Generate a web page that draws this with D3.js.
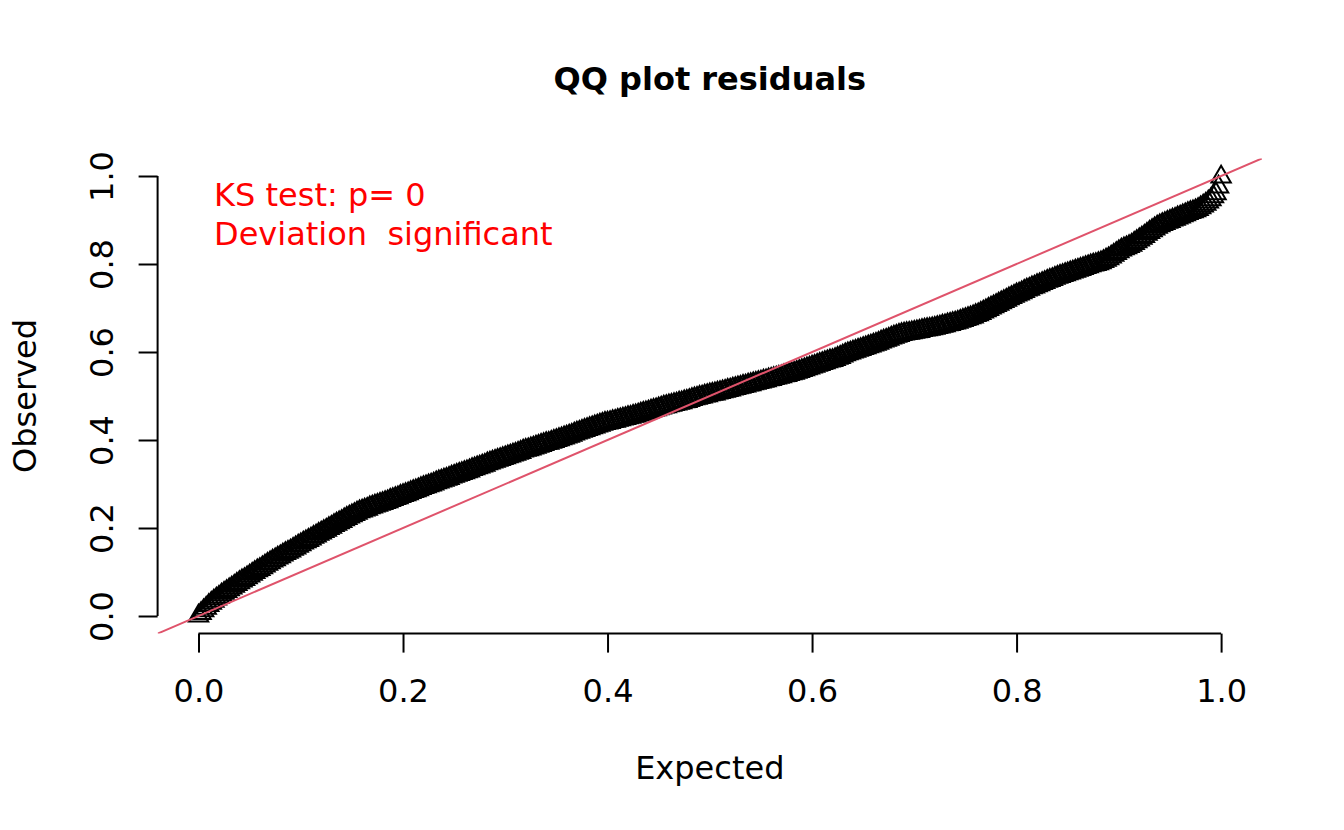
<!DOCTYPE html>
<html>
<head>
<meta charset="utf-8">
<script src="https://cdn.jsdelivr.net/npm/d3@7/dist/d3.min.js"></script>
<style>
    html, body { margin: 0; padding: 0; background: #ffffff; }
    svg { display: block; font-family: "DejaVu Sans", sans-serif; }
</style>
</head>
<body>
<svg id="chart" width="1344" height="830"></svg>
<script>
// expected (uniform) quantiles, read along the x axis
const expected = [
    0.0000, 0.0025, 0.0050, 0.0075, 0.0100, 0.0125, 0.0150, 0.0175, 0.0200, 0.0225,
    0.0250, 0.0275, 0.0300, 0.0325, 0.0350, 0.0375, 0.0400, 0.0425, 0.0450, 0.0475,
    0.0500, 0.0525, 0.0550, 0.0575, 0.0600, 0.0625, 0.0650, 0.0675, 0.0700, 0.0725,
    0.0750, 0.0775, 0.0800, 0.0825, 0.0850, 0.0875, 0.0900, 0.0925, 0.0950, 0.0975,
    0.1000, 0.1025, 0.1050, 0.1075, 0.1100, 0.1125, 0.1150, 0.1175, 0.1200, 0.1225,
    0.1250, 0.1275, 0.1300, 0.1325, 0.1350, 0.1375, 0.1400, 0.1425, 0.1450, 0.1475,
    0.1500, 0.1525, 0.1550, 0.1575, 0.1600, 0.1625, 0.1650, 0.1675, 0.1700, 0.1725,
    0.1750, 0.1775, 0.1800, 0.1825, 0.1850, 0.1875, 0.1900, 0.1925, 0.1950, 0.1975,
    0.2000, 0.2025, 0.2050, 0.2075, 0.2100, 0.2125, 0.2150, 0.2175, 0.2200, 0.2225,
    0.2250, 0.2275, 0.2300, 0.2325, 0.2350, 0.2375, 0.2400, 0.2425, 0.2450, 0.2475,
    0.2500, 0.2525, 0.2550, 0.2575, 0.2600, 0.2625, 0.2650, 0.2675, 0.2700, 0.2725,
    0.2750, 0.2775, 0.2800, 0.2825, 0.2850, 0.2875, 0.2900, 0.2925, 0.2950, 0.2975,
    0.3000, 0.3025, 0.3050, 0.3075, 0.3100, 0.3125, 0.3150, 0.3175, 0.3200, 0.3225,
    0.3250, 0.3275, 0.3300, 0.3325, 0.3350, 0.3375, 0.3400, 0.3425, 0.3450, 0.3475,
    0.3500, 0.3525, 0.3550, 0.3575, 0.3600, 0.3625, 0.3650, 0.3675, 0.3700, 0.3725,
    0.3750, 0.3775, 0.3800, 0.3825, 0.3850, 0.3875, 0.3900, 0.3925, 0.3950, 0.3975,
    0.4000, 0.4025, 0.4050, 0.4075, 0.4100, 0.4125, 0.4150, 0.4175, 0.4200, 0.4225,
    0.4250, 0.4275, 0.4300, 0.4325, 0.4350, 0.4375, 0.4400, 0.4425, 0.4450, 0.4475,
    0.4500, 0.4525, 0.4550, 0.4575, 0.4600, 0.4625, 0.4650, 0.4675, 0.4700, 0.4725,
    0.4750, 0.4775, 0.4800, 0.4825, 0.4850, 0.4875, 0.4900, 0.4925, 0.4950, 0.4975,
    0.5000, 0.5025, 0.5050, 0.5075, 0.5100, 0.5125, 0.5150, 0.5175, 0.5200, 0.5225,
    0.5250, 0.5275, 0.5300, 0.5325, 0.5350, 0.5375, 0.5400, 0.5425, 0.5450, 0.5475,
    0.5500, 0.5525, 0.5550, 0.5575, 0.5600, 0.5625, 0.5650, 0.5675, 0.5700, 0.5725,
    0.5750, 0.5775, 0.5800, 0.5825, 0.5850, 0.5875, 0.5900, 0.5925, 0.5950, 0.5975,
    0.6000, 0.6025, 0.6050, 0.6075, 0.6100, 0.6125, 0.6150, 0.6175, 0.6200, 0.6225,
    0.6250, 0.6275, 0.6300, 0.6325, 0.6350, 0.6375, 0.6400, 0.6425, 0.6450, 0.6475,
    0.6500, 0.6525, 0.6550, 0.6575, 0.6600, 0.6625, 0.6650, 0.6675, 0.6700, 0.6725,
    0.6750, 0.6775, 0.6800, 0.6825, 0.6850, 0.6875, 0.6900, 0.6925, 0.6950, 0.6975,
    0.7000, 0.7025, 0.7050, 0.7075, 0.7100, 0.7125, 0.7150, 0.7175, 0.7200, 0.7225,
    0.7250, 0.7275, 0.7300, 0.7325, 0.7350, 0.7375, 0.7400, 0.7425, 0.7450, 0.7475,
    0.7500, 0.7525, 0.7550, 0.7575, 0.7600, 0.7625, 0.7650, 0.7675, 0.7700, 0.7725,
    0.7750, 0.7775, 0.7800, 0.7825, 0.7850, 0.7875, 0.7900, 0.7925, 0.7950, 0.7975,
    0.8000, 0.8025, 0.8050, 0.8075, 0.8100, 0.8125, 0.8150, 0.8175, 0.8200, 0.8225,
    0.8250, 0.8275, 0.8300, 0.8325, 0.8350, 0.8375, 0.8400, 0.8425, 0.8450, 0.8475,
    0.8500, 0.8525, 0.8550, 0.8575, 0.8600, 0.8625, 0.8650, 0.8675, 0.8700, 0.8725,
    0.8750, 0.8775, 0.8800, 0.8825, 0.8850, 0.8875, 0.8900, 0.8925, 0.8950, 0.8975,
    0.9000, 0.9025, 0.9050, 0.9075, 0.9100, 0.9125, 0.9150, 0.9175, 0.9200, 0.9225,
    0.9250, 0.9275, 0.9300, 0.9325, 0.9350, 0.9375, 0.9400, 0.9425, 0.9450, 0.9475,
    0.9500, 0.9525, 0.9550, 0.9575, 0.9600, 0.9625, 0.9650, 0.9675, 0.9700, 0.9725,
    0.9750, 0.9775, 0.9800, 0.9825, 0.9850, 0.9875, 0.9900, 0.9925, 0.9950, 0.9975,
    1.0000
];

// observed scaled residual quantiles
const observed = [
    0.000, 0.006, 0.012, 0.018, 0.024, 0.029, 0.034, 0.039, 0.043, 0.048,
    0.052, 0.056, 0.060, 0.064, 0.068, 0.072, 0.076, 0.080, 0.083, 0.087,
    0.091, 0.095, 0.099, 0.103, 0.106, 0.110, 0.114, 0.118, 0.121, 0.125,
    0.128, 0.132, 0.135, 0.139, 0.142, 0.145, 0.148, 0.152, 0.155, 0.159,
    0.162, 0.166, 0.169, 0.172, 0.175, 0.179, 0.182, 0.186, 0.189, 0.192,
    0.195, 0.199, 0.202, 0.206, 0.209, 0.212, 0.215, 0.219, 0.222, 0.225,
    0.228, 0.231, 0.234, 0.237, 0.239, 0.241, 0.243, 0.246, 0.248, 0.250,
    0.252, 0.254, 0.256, 0.258, 0.260, 0.263, 0.265, 0.267, 0.269, 0.272,
    0.274, 0.276, 0.278, 0.281, 0.283, 0.285, 0.287, 0.290, 0.292, 0.294,
    0.296, 0.298, 0.300, 0.303, 0.305, 0.307, 0.309, 0.311, 0.313, 0.316,
    0.318, 0.320, 0.322, 0.324, 0.326, 0.328, 0.330, 0.333, 0.335, 0.337,
    0.339, 0.341, 0.343, 0.346, 0.348, 0.350, 0.352, 0.354, 0.356, 0.358,
    0.360, 0.362, 0.364, 0.366, 0.368, 0.370, 0.372, 0.375, 0.377, 0.378,
    0.380, 0.382, 0.384, 0.386, 0.388, 0.390, 0.392, 0.393, 0.395, 0.397,
    0.399, 0.401, 0.403, 0.405, 0.407, 0.409, 0.411, 0.414, 0.416, 0.418,
    0.420, 0.422, 0.424, 0.426, 0.428, 0.430, 0.432, 0.434, 0.436, 0.438,
    0.439, 0.440, 0.442, 0.443, 0.445, 0.446, 0.448, 0.449, 0.451, 0.452,
    0.454, 0.455, 0.457, 0.459, 0.461, 0.462, 0.464, 0.466, 0.468, 0.469,
    0.471, 0.473, 0.475, 0.476, 0.478, 0.479, 0.481, 0.482, 0.484, 0.485,
    0.487, 0.488, 0.490, 0.492, 0.494, 0.495, 0.497, 0.498, 0.500, 0.501,
    0.503, 0.504, 0.505, 0.507, 0.508, 0.510, 0.511, 0.513, 0.514, 0.516,
    0.517, 0.519, 0.520, 0.522, 0.523, 0.525, 0.526, 0.528, 0.529, 0.531,
    0.532, 0.534, 0.535, 0.537, 0.538, 0.540, 0.541, 0.543, 0.544, 0.546,
    0.547, 0.549, 0.551, 0.552, 0.554, 0.556, 0.558, 0.560, 0.562, 0.564,
    0.566, 0.568, 0.570, 0.572, 0.574, 0.576, 0.578, 0.580, 0.581, 0.583,
    0.586, 0.588, 0.591, 0.594, 0.596, 0.598, 0.600, 0.602, 0.604, 0.606,
    0.608, 0.610, 0.612, 0.614, 0.616, 0.618, 0.620, 0.623, 0.625, 0.627,
    0.629, 0.632, 0.634, 0.636, 0.638, 0.640, 0.641, 0.642, 0.643, 0.644,
    0.645, 0.646, 0.647, 0.649, 0.650, 0.651, 0.652, 0.653, 0.654, 0.656,
    0.657, 0.659, 0.660, 0.662, 0.663, 0.665, 0.666, 0.668, 0.670, 0.672,
    0.674, 0.676, 0.678, 0.680, 0.683, 0.685, 0.688, 0.691, 0.694, 0.697,
    0.700, 0.703, 0.706, 0.709, 0.712, 0.715, 0.718, 0.721, 0.724, 0.727,
    0.730, 0.732, 0.735, 0.738, 0.741, 0.743, 0.746, 0.748, 0.751, 0.753,
    0.756, 0.758, 0.761, 0.763, 0.765, 0.768, 0.770, 0.772, 0.774, 0.776,
    0.778, 0.780, 0.782, 0.784, 0.786, 0.788, 0.790, 0.792, 0.794, 0.796,
    0.798, 0.799, 0.801, 0.803, 0.806, 0.809, 0.812, 0.816, 0.820, 0.824,
    0.828, 0.832, 0.835, 0.837, 0.840, 0.843, 0.847, 0.851, 0.855, 0.859,
    0.863, 0.868, 0.872, 0.876, 0.880, 0.884, 0.887, 0.890, 0.892, 0.895,
    0.897, 0.900, 0.902, 0.905, 0.907, 0.910, 0.912, 0.915, 0.917, 0.919,
    0.921, 0.924, 0.928, 0.932, 0.936, 0.941, 0.946, 0.953, 0.960, 0.975,
    0.998
];

const xTicks = [0.0, 0.2, 0.4, 0.6, 0.8, 1.0];
const yTicks = [0.0, 0.2, 0.4, 0.6, 0.8, 1.0];
const ksLines = ['KS test: p= 0', 'Deviation  significant'];

const chartTitle = 'QQ plot residuals';
const xLabel = 'Expected';
const yLabel = 'Observed';

// plot region (R style, 4% extension on both axes)
const plot = {left: 157.6, right: 1262, top: 158.4, bottom: 633.6};
const fontSize = 32;

const svg = d3.select('#chart');

const x = d3.scaleLinear().domain([-0.04, 1.04]).range([plot.left, plot.right]);
const y = d3.scaleLinear().domain([-0.04, 1.04]).range([plot.bottom, plot.top]);

const points = expected.map((e, i) => ({e, o: observed[i]}));

// points: open triangles (pch = 2)
const tri = d3.symbol().type(d3.symbolTriangle).size(163);
svg.append('g')
    .selectAll('path')
    .data(points)
    .enter()
    .append('path')
    .attr('transform', d => `translate(${x(d.e)},${y(d.o)})`)
    .attr('d', tri)
    .attr('fill', 'none')
    .attr('stroke', '#000000')
    .attr('stroke-width', 2)
    .attr('stroke-linejoin', 'miter');

// 1:1 reference line, clipped to the plot region
svg.append('clipPath')
    .attr('id', 'plot-clip')
    .append('rect')
    .attr('x', plot.left)
    .attr('y', plot.top)
    .attr('width', plot.right - plot.left)
    .attr('height', plot.bottom - plot.top);

svg.append('line')
    .attr('clip-path', 'url(#plot-clip)')
    .attr('x1', x(-0.04))
    .attr('y1', y(-0.04))
    .attr('x2', x(1.04))
    .attr('y2', y(1.04))
    .attr('stroke', '#DF536B')
    .attr('stroke-width', 2);

// x axis
const xAxis = d3.axisBottom(x)
    .tickValues(xTicks)
    .tickFormat(d3.format('.1f'))
    .tickSizeInner(19)
    .tickSizeOuter(0);

const gx = svg.append('g')
    .attr('transform', `translate(0,${plot.bottom})`)
    .call(xAxis);
gx.select('.domain')
    .attr('d', `M${x(0)},0H${x(1)}`)
    .attr('stroke-width', 2);
gx.selectAll('.tick line').attr('stroke-width', 2);
gx.selectAll('.tick text')
    .attr('font-size', fontSize)
    .attr('font-family', '"DejaVu Sans", sans-serif')
    .attr('fill', '#000000')
    .attr('dy', null)
    .attr('y', 68);

// y axis
const yAxis = d3.axisLeft(y)
    .tickValues(yTicks)
    .tickFormat(d3.format('.1f'))
    .tickSizeInner(19)
    .tickSizeOuter(0);

const gy = svg.append('g')
    .attr('transform', `translate(${plot.left},0)`)
    .call(yAxis);
gy.select('.domain')
    .attr('d', `M0,${y(0)}V${y(1)}`)
    .attr('stroke-width', 2);
gy.selectAll('.tick line').attr('stroke-width', 2);
gy.selectAll('.tick text')
    .attr('font-size', fontSize)
    .attr('font-family', '"DejaVu Sans", sans-serif')
    .attr('fill', '#000000')
    .attr('text-anchor', 'middle')
    .attr('x', null)
    .attr('dy', null)
    .attr('transform', 'translate(-45,0) rotate(-90)');

// title and axis titles
svg.append('text')
    .attr('x', (plot.left + plot.right) / 2)
    .attr('y', 90)
    .attr('text-anchor', 'middle')
    .attr('font-size', fontSize)
    .attr('font-weight', 'bold')
    .text(chartTitle);

svg.append('text')
    .attr('x', (plot.left + plot.right) / 2)
    .attr('y', 779)
    .attr('text-anchor', 'middle')
    .attr('font-size', fontSize)
    .text(xLabel);

svg.append('text')
    .attr('transform', `translate(36,${(plot.top + plot.bottom) / 2}) rotate(-90)`)
    .attr('text-anchor', 'middle')
    .attr('font-size', fontSize)
    .text(yLabel);

// KS test legend (keeps the double space)
svg.append('g')
    .selectAll('text')
    .data(ksLines)
    .enter()
    .append('text')
    .attr('x', 214)
    .attr('y', (d, i) => 206 + i * 38.5)
    .attr('font-size', fontSize)
    .attr('fill', '#FF0000')
    .style('white-space', 'pre')
    .text(d => d);
</script>
</body>
</html>
